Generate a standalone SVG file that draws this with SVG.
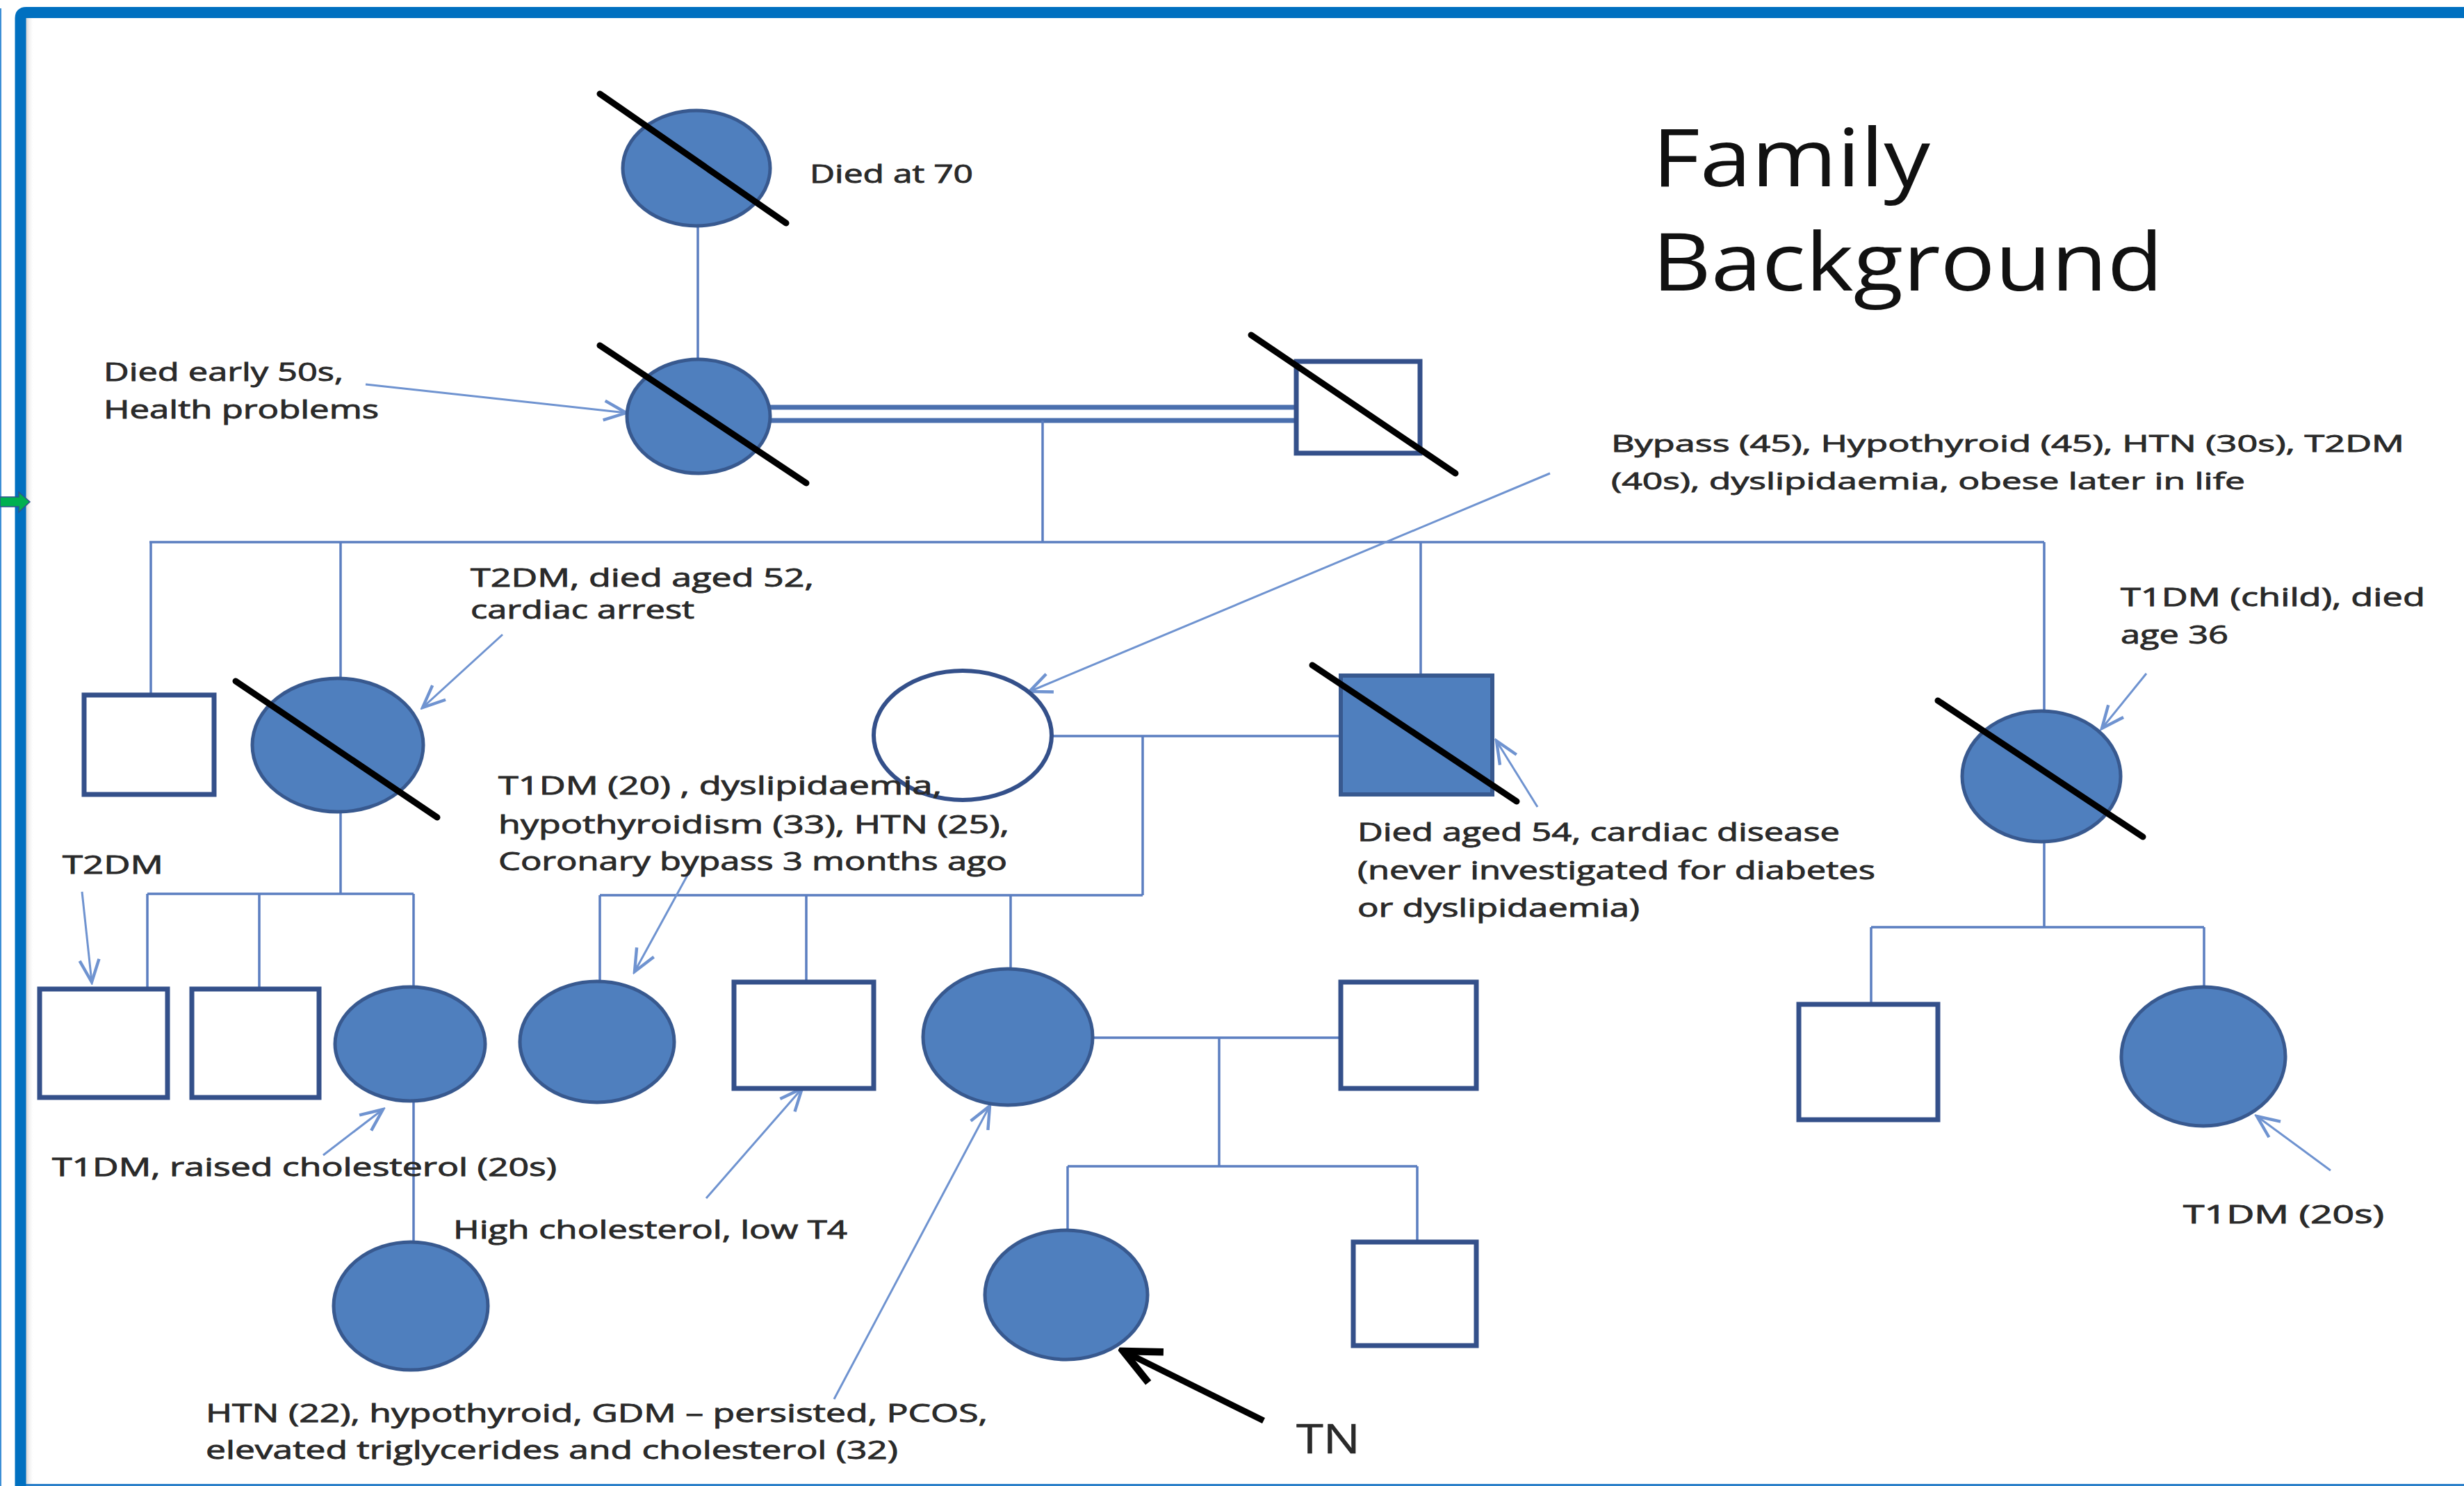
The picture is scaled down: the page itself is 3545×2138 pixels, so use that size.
<svg xmlns="http://www.w3.org/2000/svg" width="3545" height="2138" viewBox="0 0 3545 2138">
<defs>
<style>
.lbl{font-family:"Open Sans","DejaVu Sans",sans-serif;font-size:36px;fill:#2a2a2a;stroke:#2a2a2a;stroke-width:0.9;}
.title{font-family:"Open Sans","DejaVu Sans",sans-serif;font-size:115px;fill:#111;}
.ln{stroke:#5b7ec0;stroke-width:3.5;fill:none;}
.dbl{stroke:#4a6fae;stroke-width:7;fill:none;}
.ann{stroke:#6f93d0;stroke-width:3;fill:none;marker-end:url(#ah);}
.aff{fill:#4f7fbe;stroke:#38598f;stroke-width:5;}
.unaff{fill:#fff;stroke:#34508a;stroke-width:7;}
.slash{stroke:#000;stroke-width:9;stroke-linecap:round;}
</style>
<marker id="ah" markerUnits="userSpaceOnUse" markerWidth="40" markerHeight="40" viewBox="0 0 20 20" refX="18" refY="10" orient="auto">
<path d="M2,3 L18,10 L2,17" fill="none" stroke="#6f93d0" stroke-width="2.2"/>
</marker>
<marker id="ahb" markerUnits="userSpaceOnUse" markerWidth="70" markerHeight="70" viewBox="0 0 20 20" refX="18" refY="10" orient="auto">
<path d="M3,3 L18,10 L3,17" fill="none" stroke="#000" stroke-width="3"/>
</marker>
<linearGradient id="sh" x1="0" x2="1" y1="0" y2="0">
<stop offset="0" stop-color="#cfcfcf"/>
<stop offset="1" stop-color="#ffffff" stop-opacity="0"/>
</linearGradient>
</defs>
<rect width="3545" height="2138" fill="#fff"/>
<!-- frame -->
<g id="frame">
<rect x="37" y="26" width="12" height="2110" fill="url(#sh)"/>
<line x1="1" y1="12" x2="1" y2="2138" stroke="#3d8fd6" stroke-width="2"/>
<line x1="37" y1="2136.5" x2="3545" y2="2136.5" stroke="#2a7fc9" stroke-width="3"/>
<path d="M29.5,2138 V26 Q29.5,18 37.5,18 H3545" fill="none" stroke="#0070c0" stroke-width="16"/>
<polygon points="0,715 27,715 27,708 43,722 27,737 27,729 0,729" fill="#00b050" stroke="#2f528f" stroke-width="1.5"/>
</g>
<!-- connectors -->
<g id="connectors">
<line class="ln" x1="1004" y1="326" x2="1004" y2="518"/>
<line class="dbl" x1="1106" y1="586" x2="1865" y2="586"/>
<line class="dbl" x1="1106" y1="605" x2="1865" y2="605"/>
<line class="ln" x1="1500" y1="605" x2="1500" y2="780"/>
<line class="ln" x1="215" y1="780" x2="2941" y2="780"/>
<line class="ln" x1="217" y1="780" x2="217" y2="1000"/>
<line class="ln" x1="490" y1="780" x2="490" y2="977"/>
<line class="ln" x1="2044" y1="780" x2="2044" y2="972"/>
<line class="ln" x1="2941" y1="780" x2="2941" y2="1023"/>
<line class="ln" x1="1513" y1="1059" x2="1929" y2="1059"/>
<line class="ln" x1="1644" y1="1059" x2="1644" y2="1288"/>
<line class="ln" x1="863" y1="1288" x2="1644" y2="1288"/>
<line class="ln" x1="863" y1="1288" x2="863" y2="1413"/>
<line class="ln" x1="1160" y1="1288" x2="1160" y2="1413"/>
<line class="ln" x1="1454" y1="1288" x2="1454" y2="1394"/>
<line class="ln" x1="490" y1="1168" x2="490" y2="1286"/>
<line class="ln" x1="212" y1="1286" x2="595" y2="1286"/>
<line class="ln" x1="212" y1="1286" x2="212" y2="1423"/>
<line class="ln" x1="373" y1="1286" x2="373" y2="1423"/>
<line class="ln" x1="595" y1="1286" x2="595" y2="1420"/>
<line class="ln" x1="595" y1="1584" x2="595" y2="1787"/>
<line class="ln" x1="1572" y1="1493" x2="1929" y2="1493"/>
<line class="ln" x1="1754" y1="1493" x2="1754" y2="1678"/>
<line class="ln" x1="1536" y1="1678" x2="2039" y2="1678"/>
<line class="ln" x1="1536" y1="1678" x2="1536" y2="1770"/>
<line class="ln" x1="2039" y1="1678" x2="2039" y2="1787"/>
<line class="ln" x1="2941" y1="1211" x2="2941" y2="1334"/>
<line class="ln" x1="2692" y1="1334" x2="3171" y2="1334"/>
<line class="ln" x1="2692" y1="1334" x2="2692" y2="1445"/>
<line class="ln" x1="3171" y1="1334" x2="3171" y2="1421"/>
<!-- annotation arrows -->
<line class="ann" x1="526" y1="553" x2="901" y2="594"/>
<line class="ann" x1="2230" y1="681" x2="1481" y2="995"/>
<line class="ann" x1="723" y1="913" x2="608" y2="1018"/>
<line class="ann" x1="993" y1="1252" x2="913" y2="1398"/>
<line class="ann" x1="118" y1="1283" x2="132" y2="1413"/>
<line class="ann" x1="2212" y1="1161" x2="2153" y2="1066"/>
<line class="ann" x1="3088" y1="969" x2="3024" y2="1048"/>
<line class="ann" x1="465" y1="1662" x2="551" y2="1596"/>
<line class="ann" x1="1016" y1="1724" x2="1154" y2="1566"/>
<line class="ann" x1="1200" y1="2013" x2="1424" y2="1591"/>
<line class="ann" x1="3353" y1="1684" x2="3247" y2="1606"/>
<line x1="1818" y1="2044" x2="1616" y2="1944" stroke="#000" stroke-width="9" marker-end="url(#ahb)"/>
</g>
<!-- nodes -->
<g id="gen1-grandmother">
<ellipse class="aff" cx="1002" cy="242" rx="106" ry="83"/>
<line class="slash" x1="863" y1="135" x2="1131" y2="321"/>
<text class="lbl" x="1165" y="263" textLength="235" lengthAdjust="spacingAndGlyphs">Died at 70</text>
</g>
<g id="gen2-mother">
<ellipse class="aff" cx="1005" cy="599" rx="103" ry="82"/>
<line class="slash" x1="863" y1="497" x2="1160" y2="695"/>
<text class="lbl" x="149" y="548" textLength="345" lengthAdjust="spacingAndGlyphs">Died early 50s,</text>
<text class="lbl" x="149" y="602" textLength="396" lengthAdjust="spacingAndGlyphs">Health problems</text>
</g>
<g id="gen2-father">
<rect class="unaff" x="1865" y="520" width="178" height="132"/>
<line class="slash" x1="1800" y1="482" x2="2094" y2="681"/>
</g>
<g id="title">
<text class="title" x="2377" y="268" textLength="400" lengthAdjust="spacingAndGlyphs">Family</text>
<text class="title" x="2377" y="418" textLength="735" lengthAdjust="spacingAndGlyphs">Background</text>
</g>
<g id="label-bypass">
<text class="lbl" style="font-size:33px" x="2318" y="650" textLength="1141" lengthAdjust="spacingAndGlyphs">Bypass (45), Hypothyroid (45), HTN (30s), T2DM</text>
<text class="lbl" style="font-size:33px" x="2318" y="704" textLength="912" lengthAdjust="spacingAndGlyphs">(40s), dyslipidaemia, obese later in life</text>
</g>
<g id="gen3-son-E">
<rect class="unaff" x="121" y="1000" width="187" height="143"/>
</g>
<g id="gen3-daughter-F">
<ellipse class="aff" cx="486" cy="1072" rx="123" ry="96"/>
<line class="slash" x1="339" y1="980" x2="629" y2="1176"/>
<text class="lbl" x="677" y="844" textLength="494" lengthAdjust="spacingAndGlyphs">T2DM, died aged 52,</text>
<text class="lbl" x="677" y="890" textLength="322" lengthAdjust="spacingAndGlyphs">cardiac arrest</text>
</g>
<g id="gen3-wife-D">
<ellipse class="unaff" style="stroke-width:6" cx="1385" cy="1058" rx="128" ry="93"/>
</g>
<g id="gen3-son-H">
<rect class="aff" style="stroke-width:6" x="1929" y="972" width="218" height="171"/>
<line class="slash" x1="1888" y1="957" x2="2182" y2="1153"/>
<text class="lbl" x="1953" y="1210" textLength="694" lengthAdjust="spacingAndGlyphs">Died aged 54, cardiac disease</text>
<text class="lbl" x="1953" y="1265" textLength="745" lengthAdjust="spacingAndGlyphs">(never investigated for diabetes</text>
<text class="lbl" x="1953" y="1319" textLength="406" lengthAdjust="spacingAndGlyphs">or dyslipidaemia)</text>
</g>
<g id="gen3-daughter-I">
<ellipse class="aff" cx="2937" cy="1117" rx="114" ry="94"/>
<line class="slash" x1="2788" y1="1008" x2="3083" y2="1204"/>
<text class="lbl" x="3051" y="872" textLength="438" lengthAdjust="spacingAndGlyphs">T1DM (child), died</text>
<text class="lbl" x="3051" y="926" textLength="155" lengthAdjust="spacingAndGlyphs">age 36</text>
</g>
<g id="gen4-G1">
<rect class="unaff" x="57" y="1423" width="184" height="156"/>
<text class="lbl" x="90" y="1257" textLength="145" lengthAdjust="spacingAndGlyphs">T2DM</text>
</g>
<g id="gen4-G2">
<rect class="unaff" x="276" y="1423" width="183" height="156"/>
</g>
<g id="gen4-G3">
<ellipse class="aff" cx="590" cy="1502" rx="108" ry="82"/>
<text class="lbl" x="75" y="1692" textLength="726" lengthAdjust="spacingAndGlyphs">T1DM, raised cholesterol (20s)</text>
</g>
<g id="gen5-G4">
<ellipse class="aff" cx="591" cy="1879" rx="111" ry="92"/>
</g>
<g id="gen4-D1">
<ellipse class="aff" cx="859" cy="1499" rx="111" ry="87"/>
<text class="lbl" x="717" y="1143" textLength="638" lengthAdjust="spacingAndGlyphs">T1DM (20) , dyslipidaemia,</text>
<text class="lbl" x="717" y="1199" textLength="735" lengthAdjust="spacingAndGlyphs">hypothyroidism (33), HTN (25),</text>
<text class="lbl" x="717" y="1252" textLength="732" lengthAdjust="spacingAndGlyphs">Coronary bypass 3 months ago</text>
</g>
<g id="gen4-D2">
<rect class="unaff" x="1056" y="1413" width="201" height="153"/>
<text class="lbl" x="652" y="1782" textLength="567" lengthAdjust="spacingAndGlyphs">High cholesterol, low T4</text>
</g>
<g id="gen4-D3">
<ellipse class="aff" cx="1450" cy="1492" rx="122" ry="98"/>
<text class="lbl" x="296" y="2046" textLength="1125" lengthAdjust="spacingAndGlyphs">HTN (22), hypothyroid, GDM – persisted, PCOS,</text>
<text class="lbl" x="296" y="2099" textLength="996" lengthAdjust="spacingAndGlyphs">elevated triglycerides and cholesterol (32)</text>
</g>
<g id="gen4-spouse">
<rect class="unaff" x="1929" y="1413" width="195" height="153"/>
</g>
<g id="gen5-TN">
<ellipse class="aff" cx="1534" cy="1863" rx="117" ry="93"/>
<text class="lbl" style="font-size:58px;stroke-width:0.5" x="1865" y="2091" textLength="92" lengthAdjust="spacingAndGlyphs">TN</text>
</g>
<g id="gen5-brother">
<rect class="unaff" x="1947" y="1787" width="177" height="149"/>
</g>
<g id="gen4-J">
<rect class="unaff" x="2588" y="1445" width="200" height="166"/>
</g>
<g id="gen4-K">
<ellipse class="aff" cx="3170" cy="1520" rx="118" ry="100"/>
<text class="lbl" x="3141" y="1760" textLength="289" lengthAdjust="spacingAndGlyphs">T1DM  (20s)</text>
</g>
</svg>
